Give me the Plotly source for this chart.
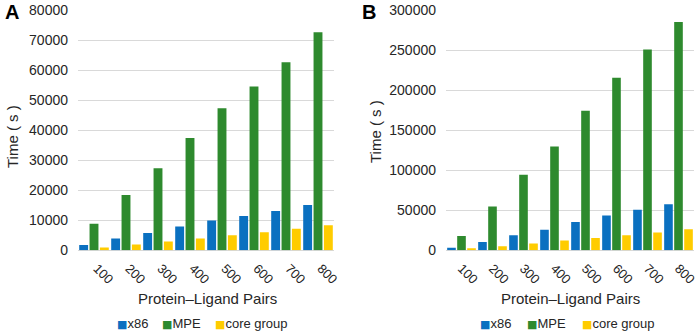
import plotly.graph_objects as go

categories = ["100", "200", "300", "400", "500", "600", "700", "800"]

a_x86 = [1800, 3900, 5800, 7900, 9900, 11400, 13100, 15100]
a_mpe = [8800, 18400, 27300, 37400, 47300, 54500, 62600, 72600]
a_core = [900, 1900, 2900, 3900, 5000, 6000, 7200, 8300]

b_x86 = [3200, 10500, 18800, 25700, 35200, 43500, 50600, 57600]
b_mpe = [17700, 54600, 94200, 129600, 174200, 215400, 250800, 285000]
b_core = [2600, 5200, 8400, 12200, 15200, 18900, 22200, 26300]

series_names = ["x86", "MPE", "core group"]
colors = ["#0A70C0", "#2E8A2E", "#FFCC00"]

W, H = 699, 336
def px(x): return x / W
def py(y): return 1 - y / H

fig = go.Figure()
for vals, name, col in zip([a_x86, a_mpe, a_core], series_names, colors):
    fig.add_trace(go.Bar(x=categories, y=vals, name=name, marker=dict(color=col, line=dict(width=0)),
                         xaxis="x", yaxis="y", showlegend=False))
for vals, name, col in zip([b_x86, b_mpe, b_core], series_names, colors):
    fig.add_trace(go.Bar(x=categories, y=vals, name=name, marker=dict(color=col, line=dict(width=0)),
                         xaxis="x2", yaxis="y2", showlegend=False))

font_main = "Liberation Sans, Arial, sans-serif"
txt_col = "#262626"
tick_font = dict(family=font_main, size=14, color=txt_col)
xtick_font = dict(family=font_main, size=13, color=txt_col)
ydom = [py(250.3), py(10)]

xcommon = dict(type="category", tickangle=45, tickfont=xtick_font, showgrid=False, automargin=False,
               showline=False, ticks="", ticklabelstandoff=7, fixedrange=True)
ycommon = dict(showgrid=True, gridcolor="#D9D9D9", gridwidth=1, zeroline=True, automargin=False,
               zerolinecolor="#D9D9D9", zerolinewidth=1, tickfont=tick_font, tickformat="d",
               showline=False, ticks="", ticklabelstandoff=9, fixedrange=True)

fig.update_layout(
    width=W, height=H, autosize=False,
    margin=dict(l=0, r=0, t=0, b=0, pad=0),
    paper_bgcolor="white", plot_bgcolor="white",
    barmode="group", bargap=0.03, bargroupgap=0.14,
    font=dict(family=font_main, color=txt_col),
    xaxis=dict(domain=[px(78), px(334)], anchor="y", ticklabelshift=3, **xcommon),
    yaxis=dict(domain=ydom, anchor="x", range=[0, 80000], dtick=10000, **ycommon),
    xaxis2=dict(domain=[px(446), px(694)], anchor="y2", ticklabelshift=0, **xcommon),
    yaxis2=dict(domain=ydom, anchor="x2", range=[0, 300000], dtick=50000, **ycommon),
    showlegend=False,
)

ann_font = dict(family=font_main, size=15, color=txt_col)
annotations = [
    dict(text="Protein\u2013Ligand Pairs", x=px(207), y=py(298), xanchor="center", yanchor="middle", font=ann_font),
    dict(text="Protein\u2013Ligand Pairs", x=px(570), y=py(298), xanchor="center", yanchor="middle", font=ann_font),
    dict(text="Time ( s )", x=px(12), y=py(137), textangle=-90, xanchor="center", yanchor="middle", font=ann_font),
    dict(text="Time ( s )", x=px(376), y=py(132), textangle=-90, xanchor="center", yanchor="middle", font=ann_font),
    dict(text="<b>A</b>", x=px(12), y=py(12), xanchor="center", yanchor="middle",
         font=dict(family=font_main, size=20, color="black")),
    dict(text="<b>B</b>", x=px(369), y=py(12), xanchor="center", yanchor="middle",
         font=dict(family=font_main, size=20, color="black")),
]

legend_font = dict(family=font_main, size=13, color=txt_col)
legend_x_a = [115, 160, 213]
legend_x_b = [478, 525, 580]
for starts in (legend_x_a, legend_x_b):
    for x0, name, col in zip(starts, series_names, colors):
        annotations.append(dict(
            text=f"<span style='font-family:DejaVu Sans;font-size:11px;color:{col}'>\u25A0</span>{name}",
            x=px(x0), y=py(323), xanchor="left", yanchor="middle", font=legend_font))

for a in annotations:
    a.update(xref="paper", yref="paper", showarrow=False)
fig.update_layout(annotations=annotations)

fig.write_html("out.html", config={"displayModeBar": False, "responsive": False},
               post_script="document.body.style.margin='0';document.body.style.overflow='hidden';")
